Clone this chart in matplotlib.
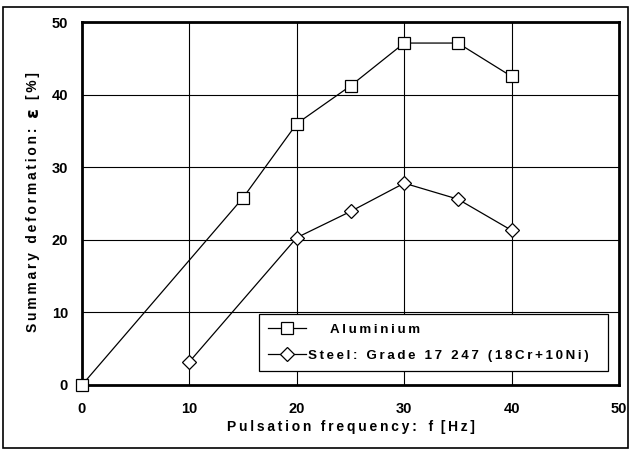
import matplotlib
matplotlib.use("Agg")
import matplotlib.pyplot as plt
from matplotlib.patches import Rectangle

# data
freq_al = [0, 15, 20, 25, 30, 35, 40]
def_al = [0, 25.8, 36.0, 41.2, 47.1, 47.1, 42.5]
freq_st = [10, 20, 25, 30, 35, 40]
def_st = [3.2, 20.3, 23.9, 27.8, 25.6, 21.3]
x_ticks = [0, 10, 20, 30, 40, 50]
y_ticks = [0, 10, 20, 30, 40, 50]

plt.rcParams["font.family"] = ["Liberation Sans", "DejaVu Sans"]


def spaced(s, sep="\u2009"):
    # the original uses loose letter spacing
    return sep.join(s)


W, H = 631, 450
fig = plt.figure(figsize=(W / 100, H / 100), dpi=100)
ax = fig.add_axes([82 / W, 1 - 385 / H, 537 / W, 363 / H])

# outer frame of the picture
fig.patches.append(Rectangle((3 / W, 1 - 448 / H), 625 / W, 441 / H, transform=fig.transFigure,
                             fill=False, edgecolor="black", linewidth=1.2))

ax.plot(freq_al, def_al, color="black", linewidth=0.9, marker="s", markersize=9,
        markerfacecolor="white", markeredgecolor="black", markeredgewidth=0.9,
        label="      " + spaced("Aluminium"), zorder=3, clip_on=False)
ax.plot(freq_st, def_st, color="black", linewidth=0.9, marker="D", markersize=7.5,
        markerfacecolor="white", markeredgecolor="black", markeredgewidth=0.9,
        label=spaced("Steel: Grade 17 247 (18Cr+10Ni)"), zorder=3, clip_on=False)

ax.set_xlim(0, 50)
ax.set_ylim(0, 50)
ax.set_xticks(x_ticks)
ax.set_yticks(y_ticks)
ax.grid(True, color="black", linewidth=0.8)
ax.set_axisbelow(True)
ax.tick_params(length=0, labelsize=10.5)
ax.tick_params(axis="x", pad=12)
ax.tick_params(axis="y", pad=10)
for lbl in ax.get_xticklabels() + ax.get_yticklabels():
    lbl.set_fontweight("bold")
for sp in ax.spines.values():
    sp.set_linewidth(2)

# axis titles placed as in the original
fig.text(351 / W, 1 - 427.5 / H, spaced("Pulsation frequency:") + "   f  " + spaced("[Hz]"),
         ha="center", va="center", fontsize=10, fontweight="bold")
fig.text(33 / W, 1 - 230 / H, spaced("Summary deformation:"), rotation=90,
         ha="center", va="center", fontsize=10, fontweight="bold")
fig.text(33 / W, 1 - 112 / H, "\u03b5", rotation=90, ha="center", va="center",
         fontsize=13, fontweight="bold", family="DejaVu Sans")
fig.text(33 / W, 1 - 86 / H, spaced("[%]"), rotation=90,
         ha="center", va="center", fontsize=10, fontweight="bold")

leg = ax.legend(loc="lower left", bbox_to_anchor=(177 / 537, 14 / 363, 349 / 537, 62 / 363),
                mode="expand", fancybox=False, framealpha=1, edgecolor="black",
                fontsize=9.6, borderpad=0.7, labelspacing=1.0, handlelength=2.8,
                handletextpad=0.2, borderaxespad=0)
leg.get_frame().set_linewidth(0.9)
for t in leg.get_texts():
    t.set_fontweight("bold")

fig.savefig("out.png", dpi=100)
